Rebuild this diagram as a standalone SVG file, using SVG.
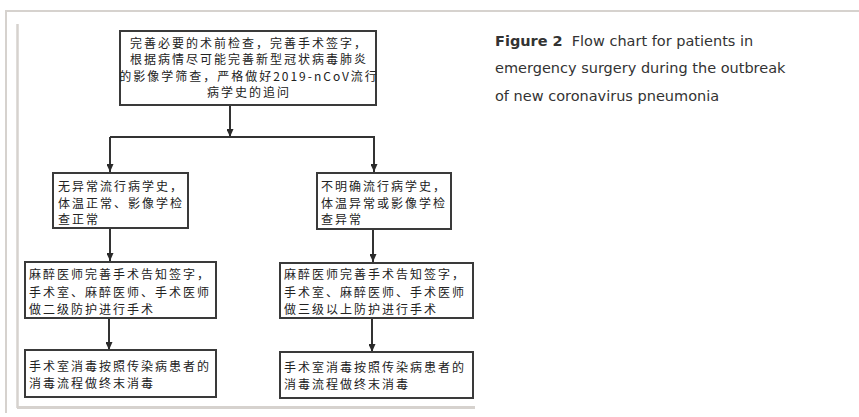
<svg xmlns="http://www.w3.org/2000/svg" width="859" height="417" viewBox="0 0 859 417">
<style>
.frame{stroke:#d6d2ce;fill:none}
.box{fill:#fff;stroke:#3a3a3a;stroke-width:2}
.t{font-family:"Noto Sans CJK SC","Liberation Sans",sans-serif;font-size:12px;letter-spacing:2px;fill:#222}
.tc{text-anchor:middle}
.ln{stroke:#333;stroke-width:2;fill:none}
.cap{font-family:"DejaVu Sans","Liberation Sans",sans-serif;font-size:14.5px;fill:#333}
</style>
<defs>
<marker id="ah" viewBox="0 0 8 7" refX="8" refY="3.5" markerWidth="8" markerHeight="7" markerUnits="userSpaceOnUse" orient="auto">
<path d="M0,0 L8,3.5 L0,7 Z" fill="#2a2a2a"/>
</marker>
</defs>
<rect width="859" height="417" fill="#fff"/>
<g id="frame">
<line class="frame" x1="5" y1="11" x2="859" y2="11" stroke-width="2"/>
<line class="frame" x1="6" y1="11" x2="6" y2="413" stroke-width="2"/>
<line class="frame" x1="17.5" y1="24" x2="17.5" y2="408" stroke-width="2.5"/>
<line class="frame" x1="17" y1="407.5" x2="475" y2="407.5" stroke-width="3"/>
</g>
<g id="connectors">
<line class="ln" x1="230" y1="105" x2="230" y2="137" marker-end="url(#ah)"/>
<line class="ln" x1="110" y1="137" x2="375" y2="137"/>
<line class="ln" x1="110" y1="137" x2="110" y2="172" marker-end="url(#ah)"/>
<line class="ln" x1="374" y1="137" x2="374" y2="172" marker-end="url(#ah)"/>
<line class="ln" x1="110" y1="228" x2="110" y2="261" marker-end="url(#ah)"/>
<line class="ln" x1="373" y1="229" x2="373" y2="262" marker-end="url(#ah)"/>
<line class="ln" x1="109" y1="318" x2="109" y2="350" marker-end="url(#ah)"/>
<line class="ln" x1="372" y1="318" x2="372" y2="352" marker-end="url(#ah)"/>
</g>
<g id="n1">
<rect class="box" x="120" y="31" width="256" height="74"/>
<text class="t tc" x="249" y="47.5">完善必要的术前检查，完善手术签字，</text>
<text class="t tc" x="249" y="64">根据病情尽可能完善新型冠状病毒肺炎</text>
<text class="t tc" x="249" y="80.5">的影像学筛查，严格做好2019-nCoV流行</text>
<text class="t tc" x="249" y="97">病学史的追问</text>
</g>
<g id="n2">
<rect class="box" x="53" y="173" width="135" height="55"/>
<text class="t" x="58" y="191">无异常流行病学史，</text>
<text class="t" x="58" y="207.5">体温正常、影像学检</text>
<text class="t" x="58" y="224">查正常</text>
</g>
<g id="n3">
<rect class="box" x="317" y="173" width="134" height="56"/>
<text class="t" x="321" y="191">不明确流行病学史，</text>
<text class="t" x="321" y="207.5">体温异常或影像学检</text>
<text class="t" x="321" y="224">查异常</text>
</g>
<g id="n4">
<rect class="box" x="25" y="262" width="191" height="56"/>
<text class="t" x="29" y="279">麻醉医师完善手术告知签字，</text>
<text class="t" x="29" y="296.5">手术室、麻醉医师、手术医师</text>
<text class="t" x="29" y="314">做二级防护进行手术</text>
</g>
<g id="n5">
<rect class="box" x="280" y="263" width="193" height="55"/>
<text class="t" x="284" y="279">麻醉医师完善手术告知签字，</text>
<text class="t" x="284" y="296.5">手术室、麻醉医师、手术医师</text>
<text class="t" x="284" y="314">做三级以上防护进行手术</text>
</g>
<g id="n6">
<rect class="box" x="25" y="350" width="191" height="47"/>
<text class="t" x="29" y="371">手术室消毒按照传染病患者的</text>
<text class="t" x="29" y="388">消毒流程做终末消毒</text>
</g>
<g id="n7">
<rect class="box" x="280" y="352" width="193" height="46"/>
<text class="t" x="284" y="372">手术室消毒按照传染病患者的</text>
<text class="t" x="284" y="389">消毒流程做终末消毒</text>
</g>
<g id="caption">
<text class="cap" x="495" y="46"><tspan font-weight="bold">Figure 2</tspan><tspan dx="9">Flow chart for patients in</tspan></text>
<text class="cap" x="495" y="73">emergency surgery during the outbreak</text>
<text class="cap" x="495" y="101">of new coronavirus pneumonia</text>
</g>
</svg>
